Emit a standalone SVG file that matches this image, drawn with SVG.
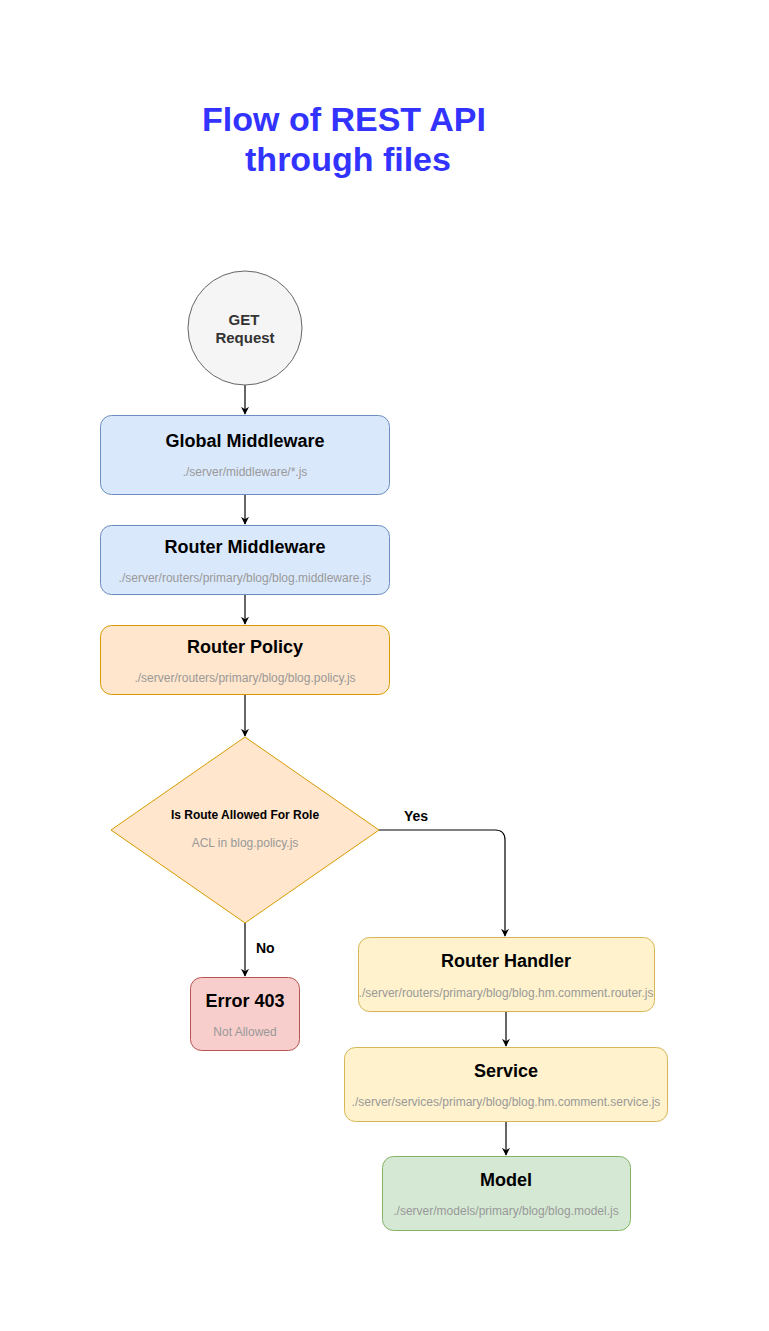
<svg xmlns="http://www.w3.org/2000/svg" width="769" height="1331" viewBox="0 0 769 1331">
<style>
text{font-family:"Liberation Sans",Arial,Helvetica,sans-serif;text-anchor:middle}
.t{font-size:18px;font-weight:bold;fill:#000}
.s{font-size:12px;fill:#999999}
.e{fill:none;stroke:#000;stroke-width:1.2}
.lbl{font-size:14px;font-weight:bold;fill:#000;text-anchor:start}
</style>
<defs>
<marker id="arr" viewBox="0 0 10 10" refX="9" refY="5" markerWidth="8" markerHeight="8" markerUnits="userSpaceOnUse" orient="auto">
<path d="M0,0 L10,5 L0,10 L3,5 Z" fill="#000"/>
</marker>
</defs>
<rect width="769" height="1331" fill="#fff"/>
<g id="title">
<text x="344" y="131" style="font-size:34px;font-weight:bold;fill:#3333ff">Flow of REST API</text>
<text x="348" y="171" style="font-size:34px;font-weight:bold;fill:#3333ff">through files</text>
</g>
<g id="connectors">
<path class="e" d="M245,385 V414" marker-end="url(#arr)"/>
<path class="e" d="M245,495 V524" marker-end="url(#arr)"/>
<path class="e" d="M245,595 V624" marker-end="url(#arr)"/>
<path class="e" d="M245,695 V736" marker-end="url(#arr)"/>
<path class="e" d="M379,830 H495 Q505,830 505,840 V936" marker-end="url(#arr)"/>
<path class="e" d="M245,923 V976" marker-end="url(#arr)"/>
<path class="e" d="M506,1012 V1046" marker-end="url(#arr)"/>
<path class="e" d="M506,1122 V1155" marker-end="url(#arr)"/>
<text class="lbl" x="404" y="821">Yes</text>
<text class="lbl" x="256" y="953">No</text>
</g>
<g id="get-request">
<circle cx="245" cy="328" r="57" fill="#f5f5f5" stroke="#666666" stroke-width="1"/>
<text x="244" y="325" style="font-size:15px;font-weight:bold;fill:#333333">GET</text>
<text x="245" y="343" style="font-size:15px;font-weight:bold;fill:#333333">Request</text>
</g>
<g id="global-middleware">
<rect x="100.5" y="415.5" width="289" height="79" rx="11" fill="#dae8fc" stroke="#6c8ebf"/>
<text class="t" x="245" y="447">Global Middleware</text>
<text class="s" x="245" y="476">./server/middleware/*.js</text>
</g>
<g id="router-middleware">
<rect x="100.5" y="525.5" width="289" height="69" rx="11" fill="#dae8fc" stroke="#6c8ebf"/>
<text class="t" x="245" y="553">Router Middleware</text>
<text class="s" x="245" y="582">./server/routers/primary/blog/blog.middleware.js</text>
</g>
<g id="router-policy">
<rect x="100.5" y="625.5" width="289" height="69" rx="11" fill="#ffe6cc" stroke="#d79b00"/>
<text class="t" x="245" y="653">Router Policy</text>
<text class="s" x="245" y="682">./server/routers/primary/blog/blog.policy.js</text>
</g>
<g id="decision">
<path d="M245,737 L379,830 L245,923 L111,830 Z" fill="#ffe6cc" stroke="#d79b00"/>
<text x="245" y="819" style="font-size:12px;font-weight:bold;fill:#000">Is Route Allowed For Role</text>
<text class="s" x="245" y="847">ACL in blog.policy.js</text>
</g>
<g id="error-403">
<rect x="190.5" y="977.5" width="109" height="73" rx="11" fill="#f8cecc" stroke="#b85450"/>
<text class="t" x="245" y="1007">Error 403</text>
<text class="s" x="245" y="1036">Not Allowed</text>
</g>
<g id="router-handler">
<rect x="358.5" y="937.5" width="296" height="74" rx="11" fill="#fff2cc" stroke="#d6b656"/>
<text class="t" x="506" y="967">Router Handler</text>
<text class="s" x="506" y="997">./server/routers/primary/blog/blog.hm.comment.router.js</text>
</g>
<g id="service">
<rect x="344.5" y="1047.5" width="323" height="74" rx="11" fill="#fff2cc" stroke="#d6b656"/>
<text class="t" x="506" y="1077">Service</text>
<text class="s" x="506" y="1106">./server/services/primary/blog/blog.hm.comment.service.js</text>
</g>
<g id="model">
<rect x="382.5" y="1156.5" width="248" height="74" rx="11" fill="#d5e8d4" stroke="#82b366"/>
<text class="t" x="506" y="1186">Model</text>
<text class="s" x="506" y="1215">./server/models/primary/blog/blog.model.js</text>
</g>
</svg>
